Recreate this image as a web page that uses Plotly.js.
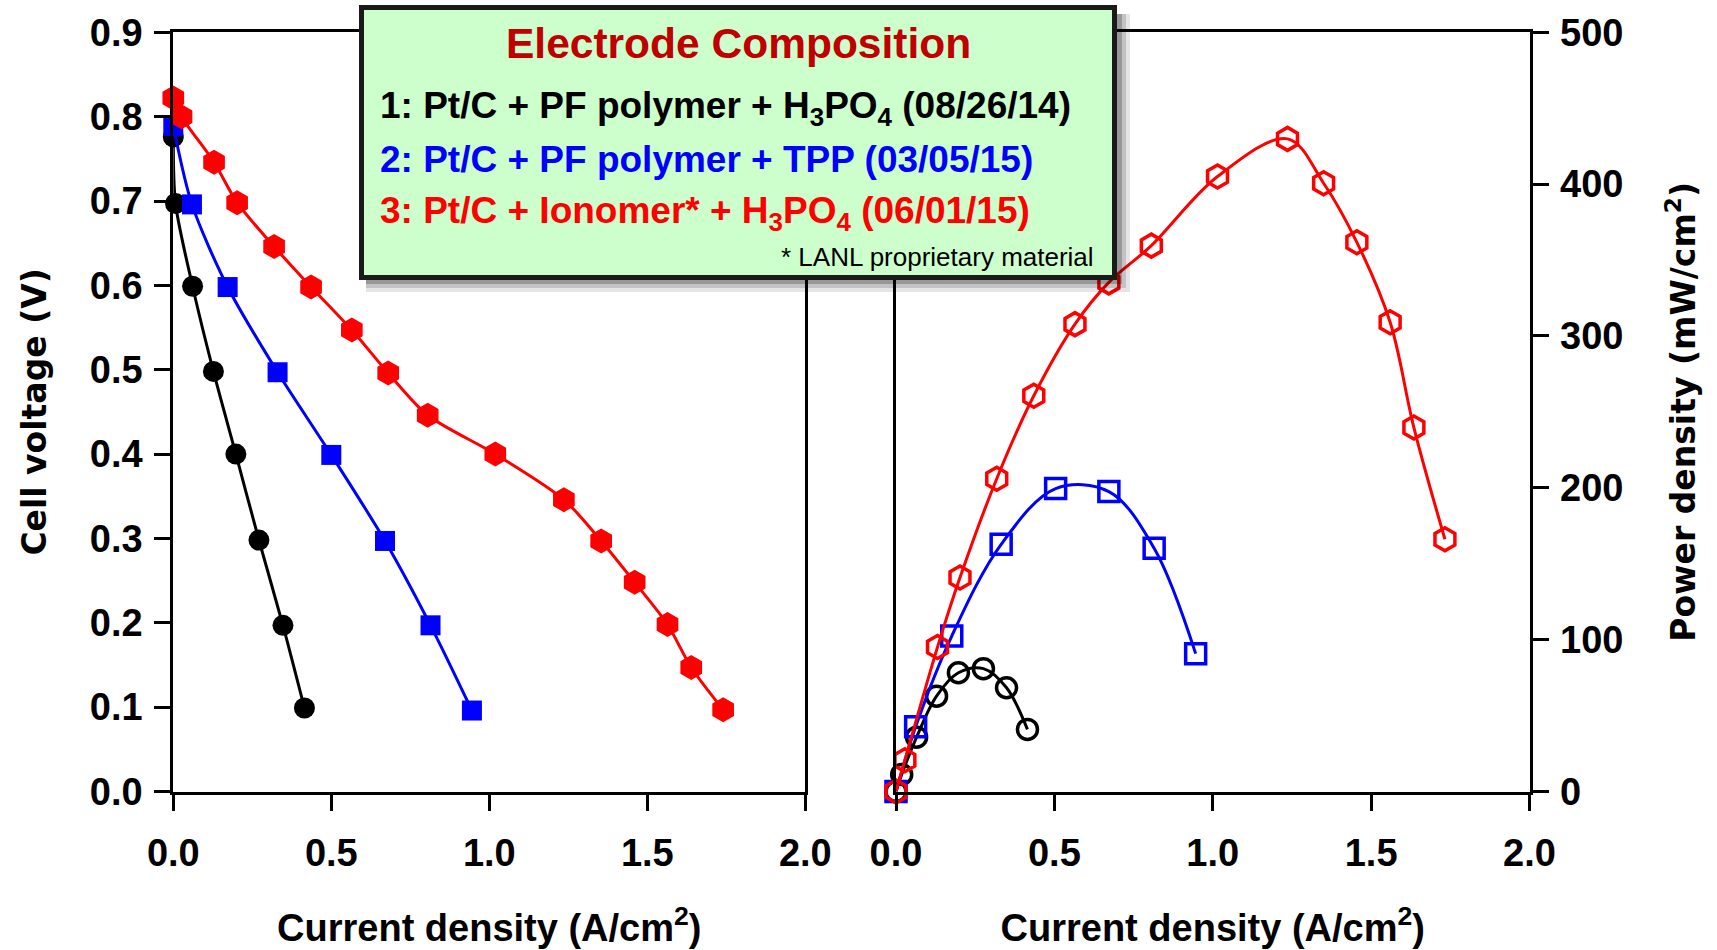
<!DOCTYPE html>
<html>
<head>
<meta charset="utf-8">
<script src="https://cdn.plot.ly/plotly-3.0.1.min.js"></script>
<style>html,body{margin:0;padding:0;background:#fff;}#chart{width:1717px;height:950px;}</style>
</head>
<body>
<div id="chart"></div>
<script>
// ---------- Data: polarization curves (left panel) ----------
const seriesNames = ["1: Pt/C + PF polymer + H3PO4 (08/26/14)", "2: Pt/C + PF polymer + TPP (03/05/15)", "3: Pt/C + Ionomer* + H3PO4 (06/01/15)"];
const currentV1 = [0.000, 0.007, 0.061, 0.127, 0.198, 0.271, 0.347, 0.415];
const voltage1  = [0.776, 0.697, 0.599, 0.498, 0.400, 0.298, 0.197, 0.099];
const currentV2 = [0.000, 0.059, 0.172, 0.330, 0.500, 0.670, 0.814, 0.945];
const voltage2  = [0.789, 0.696, 0.598, 0.497, 0.399, 0.297, 0.197, 0.096];
const currentV3 = [0.000, 0.026, 0.129, 0.202, 0.319, 0.436, 0.565, 0.680, 0.805, 1.019, 1.236, 1.354, 1.460, 1.564, 1.639, 1.740];
const voltage3  = [0.822, 0.800, 0.746, 0.698, 0.646, 0.598, 0.547, 0.496, 0.446, 0.400, 0.346, 0.297, 0.248, 0.198, 0.147, 0.097];

// ---------- Data: power density curves (right panel) ----------
const currentP1 = [0.000, 0.018, 0.065, 0.128, 0.197, 0.276, 0.349, 0.415];
const power1    = [0, 11.2, 35.8, 62.8, 78.2, 80.9, 68.3, 40.9];
const currentP2 = [0.000, 0.062, 0.176, 0.332, 0.504, 0.672, 0.815, 0.946];
const power2    = [0, 42.6, 102.4, 162.8, 199.5, 197.5, 160.2, 90.8];
const currentP3 = [0.000, 0.028, 0.131, 0.202, 0.318, 0.435, 0.565, 0.672, 0.806, 1.015, 1.236, 1.350, 1.455, 1.560, 1.635, 1.733];
const power3    = [0, 20.6, 95.1, 140.9, 206.0, 260.6, 307.8, 335.3, 359.5, 405.0, 429.8, 400.6, 361.7, 309.0, 239.7, 166.1];

// ---------- Tick labels ----------
const xTickVals = [0, 0.5, 1.0, 1.5, 2.0];
const xTickText = ["0.0", "0.5", "1.0", "1.5", "2.0"];
const vTickVals = [0, 0.1, 0.2, 0.3, 0.4, 0.5, 0.6, 0.7, 0.8, 0.9];
const vTickText = ["0.0", "0.1", "0.2", "0.3", "0.4", "0.5", "0.6", "0.7", "0.8", "0.9"];
const pTickVals = [0, 100, 200, 300, 400, 500];
const pTickText = ["0", "100", "200", "300", "400", "500"];

// ---------- Styling ----------
const W = 1717, H = 950;
const px = x => x / W;
const py = y => 1 - y / H;
const ARIAL = "Liberation Sans, Arial, Helvetica, sans-serif";
const WIDE = "DejaVu Sans, Verdana, sans-serif";
const colors = ["#000000", "#0000FF", "#FF0000"];
const symbolsFilled = ["circle", "square", "hexagon"];
const symbolsOpen = ["circle-open", "square-open", "hexagon-open"];
const msize = [21, 20, 25];
const msizeOpen = [20, 20, 23];

const polX = [currentV1, currentV2, currentV3];
const polY = [voltage1, voltage2, voltage3];
const powX = [currentP1, currentP2, currentP3];
const powY = [power1, power2, power3];

const traces = [];
for (let i = 0; i < 3; i++) {
  traces.push({
    x: polX[i], y: polY[i], xaxis: "x", yaxis: "y", type: "scatter", mode: "lines+markers",
    name: seriesNames[i], showlegend: false, cliponaxis: false,
    line: {color: colors[i], width: 3, shape: "spline", smoothing: 0.8},
    marker: {symbol: symbolsFilled[i], size: msize[i], color: colors[i], line: {width: 0}}
  });
}
for (let i = 0; i < 3; i++) {
  traces.push({
    x: powX[i], y: powY[i], xaxis: "x2", yaxis: "y2", type: "scatter", mode: "lines+markers",
    name: seriesNames[i], showlegend: false, cliponaxis: false,
    line: {color: colors[i], width: 3, shape: "spline", smoothing: 1},
    marker: {symbol: symbolsOpen[i], size: msizeOpen[i], color: colors[i], line: {width: 3.5, color: colors[i]}}
  });
}

const tickFont = {family: ARIAL, size: 38, color: "#000", weight: "bold"};
const xTitleFont = {family: ARIAL, size: 38, color: "#000", weight: "bold"};
const yTitleFont = {family: WIDE, size: 33, color: "#000", weight: "bold"};

const axisCommon = {
  showgrid: false, zeroline: false, showline: true, linewidth: 3, linecolor: "#000",
  mirror: true, ticks: "outside", ticklen: 16, tickwidth: 3, tickcolor: "#000",
  tickfont: tickFont, fixedrange: true
};

const layout = {
  width: W, height: H,
  margin: {l: 0, r: 0, t: 0, b: 0},
  paper_bgcolor: "#fff", plot_bgcolor: "rgba(0,0,0,0)",
  showlegend: false,
  xaxis: Object.assign({}, axisCommon, {
    domain: [px(173.3), px(805.3)], range: [0, 2], anchor: "y",
    tickvals: xTickVals, ticktext: xTickText, ticklabelstandoff: 10,
    title: {text: "Current density (A/cm<sup>2</sup>)", font: xTitleFont, standoff: 42}
  }),
  yaxis: Object.assign({}, axisCommon, {
    domain: [py(791.5), py(32.3)], range: [0, 0.9], anchor: "x",
    tickvals: vTickVals, ticktext: vTickText, ticklabelstandoff: 4,
    title: {text: "Cell voltage (V)", font: yTitleFont, standoff: 34}
  }),
  xaxis2: Object.assign({}, axisCommon, {
    domain: [px(896), px(1529.5)], range: [0, 2], anchor: "y2",
    tickvals: xTickVals, ticktext: xTickText, ticklabelstandoff: 10,
    title: {text: "Current density (A/cm<sup>2</sup>)", font: xTitleFont, standoff: 42}
  }),
  yaxis2: Object.assign({}, axisCommon, {
    domain: [py(791.5), py(32.3)], range: [0, 500], anchor: "x2", side: "right",
    tickvals: pTickVals, ticktext: pTickText, ticklabelstandoff: 4,
    title: {text: "Power density (mW/cm<sup>2</sup>)", font: yTitleFont, standoff: 50}
  }),
  shapes: [
    // soft shadow of the composition box
    {type: "rect", xref: "paper", yref: "paper", x0: px(366), x1: px(1130), y0: py(292), y1: py(14),
     fillcolor: "rgba(0,0,0,0.10)", line: {width: 0}, layer: "above"},
    {type: "rect", xref: "paper", yref: "paper", x0: px(366), x1: px(1126), y0: py(288), y1: py(14),
     fillcolor: "rgba(0,0,0,0.15)", line: {width: 0}, layer: "above"},
    {type: "rect", xref: "paper", yref: "paper", x0: px(366), x1: px(1122), y0: py(284), y1: py(14),
     fillcolor: "rgba(0,0,0,0.22)", line: {width: 0}, layer: "above"},
    // the composition box
    {type: "rect", xref: "paper", yref: "paper", x0: px(361.5), x1: px(1114.5), y0: py(277.5), y1: py(7.5),
     fillcolor: "#CCFFCC", line: {width: 5, color: "#1a1a1a"}, layer: "above"}
  ],
  annotations: [
    {xref: "paper", yref: "paper", x: px(738), y: py(43), xanchor: "center", yanchor: "middle", showarrow: false,
     text: "Electrode Composition", font: {family: ARIAL, size: 42.5, color: "#C00000", weight: "bold"}},
    {xref: "paper", yref: "paper", x: px(378), y: py(108), xanchor: "left", yanchor: "middle", showarrow: false,
     text: "1: Pt/C + PF polymer + H<sub>3</sub>PO<sub>4</sub> (08/26/14)", font: {family: ARIAL, size: 37, color: colors[0], weight: "bold"}},
    {xref: "paper", yref: "paper", x: px(378), y: py(160), xanchor: "left", yanchor: "middle", showarrow: false,
     text: "2: Pt/C + PF polymer + TPP (03/05/15)", font: {family: ARIAL, size: 37, color: colors[1], weight: "bold"}},
    {xref: "paper", yref: "paper", x: px(378), y: py(213), xanchor: "left", yanchor: "middle", showarrow: false,
     text: "3: Pt/C + Ionomer* + H<sub>3</sub>PO<sub>4</sub> (06/01/15)", font: {family: ARIAL, size: 37, color: colors[2], weight: "bold"}},
    {xref: "paper", yref: "paper", x: px(1096), y: py(257), xanchor: "right", yanchor: "middle", showarrow: false,
     text: "* LANL proprietary material", font: {family: ARIAL, size: 26, color: "#000"}}
  ]
};

Plotly.newPlot("chart", traces, layout, {displayModeBar: false, staticPlot: true});
</script>
</body>
</html>
